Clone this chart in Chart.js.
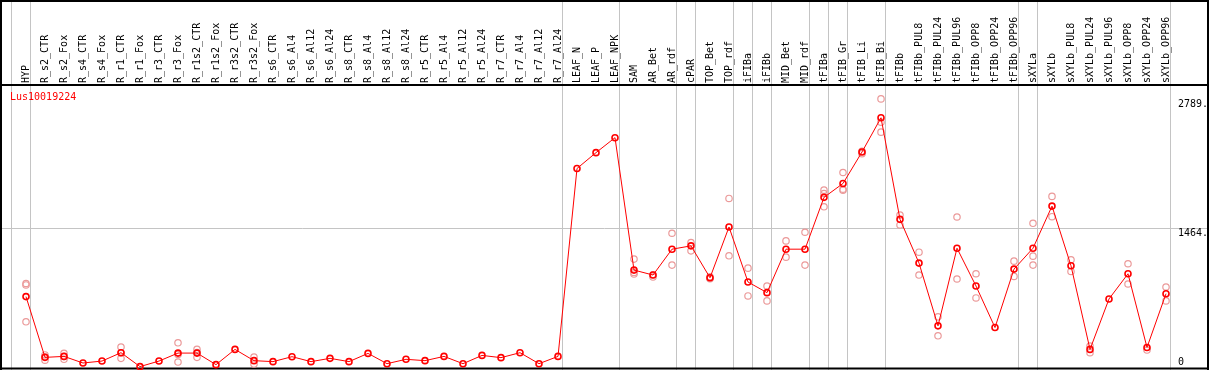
<!DOCTYPE html>
<html>
<head>
<meta charset="utf-8">
<script src="https://cdn.jsdelivr.net/npm/chart.js@4/dist/chart.umd.min.js"></script>
<style>
  body { margin: 0; background: #fff; }
  canvas { display: block; }
</style>
</head>
<body>
<canvas id="exprChart" width="1209" height="370"></canvas>
<script>
var geneName = 'Lus10019224';

var categories = ['HYP', 'R_s2_CTR', 'R_s2_Fox', 'R_s4_CTR', 'R_s4_Fox', 'R_r1_CTR', 'R_r1_Fox', 'R_r3_CTR', 'R_r3_Fox',
  'R_r1s2_CTR', 'R_r1s2_Fox', 'R_r3s2_CTR', 'R_r3s2_Fox', 'R_s6_CTR', 'R_s6_Al4', 'R_s6_Al12', 'R_s6_Al24',
  'R_s8_CTR', 'R_s8_Al4', 'R_s8_Al12', 'R_s8_Al24', 'R_r5_CTR', 'R_r5_Al4', 'R_r5_Al12', 'R_r5_Al24',
  'R_r7_CTR', 'R_r7_Al4', 'R_r7_Al12', 'R_r7_Al24', 'LEAF_N', 'LEAF_P', 'LEAF_NPK', 'SAM', 'AR_Bet', 'AR_rdf',
  'cPAR', 'TOP_Bet', 'TOP_rdf', 'iFIBa', 'iFIBb', 'MID_Bet', 'MID_rdf', 'tFIBa', 'tFIB_Gr', 'tFIB_Li', 'tFIB_Bi',
  'tFIBb', 'tFIBb_PUL8', 'tFIBb_PUL24', 'tFIBb_PUL96', 'tFIBb_OPP8', 'tFIBb_OPP24', 'tFIBb_OPP96', 'sXYLa',
  'sXYLb', 'sXYLb_PUL8', 'sXYLb_PUL24', 'sXYLb_PUL96', 'sXYLb_OPP8', 'sXYLb_OPP24', 'sXYLb_OPP96'];

// mean expression per sample
var meanValues = [755, 130, 140, 72, 92, 178, 35, 92, 174, 174, 55, 212, 96, 86, 137,
  86, 120, 86, 171, 65, 110, 96, 140, 65, 150, 127, 178, 65, 140,
  2073, 2236, 2390,
  1028, 977, 1243, 1277, 949, 1471, 905, 796, 1243, 1243,
  1776, 1919, 2243, 2595, 1550,
  1100, 454, 1253, 864, 437, 1038,
  1253, 1686,
  1072, 212, 731, 990, 232, 785];

// single replicates (null where hidden behind the mean)
var rep1 = [890, 155, 171, null, null, 236, null, null, 280, 212, null, null, 133, null, null,
  null, null, null, null, null, null, null, null, null, null, null, null, null, null,
  null, null, null,
  1141, 956, 1407, 1311, 960, 1765, 1048, 864, 1328, 1417,
  1850, 2032, 2226, 2789, 1594,
  1212, 547, 1574, 990, null, 1120,
  1509, 1786,
  1134, 246, null, 1093, 205, 854];

var rep2 = [875, 101, 110, null, null, 120, null, null, 82, 130, null, null, 61, null, null,
  null, null, null, null, null, null, null, null, null, null, null, null, null, null,
  null, null, null,
  987, 980, 1079, 1226, 940, 1175, 762, 711, 1161, 1079,
  1679, 1850, 2250, 2447, 1492,
  977, 352, 936, 741, null, 963,
  1171, 1577,
  1014, 178, null, 885, null, 711];

var rep3 = [496, 134, 139, null, null, 178, null, null, 160, 180, null, null, null, null, null,
  null, null, null, null, null, null, null, null, null, null, null, null, null, null,
  null, null, null,
  1003, null, null, null, null, null, null, null, null, null,
  1816, 1860, null, 2549, null,
  null, null, null, null, null, null,
  1079, null,
  null, null, null, null, null, null];

var yTickValues = [2789, 1464, 0];
var yGridValues = [1464];
// group separators are drawn right after these category indexes
var groupEnds = [-1, 0, 28, 31, 34, 35, 37, 38, 39, 41, 42, 43, 45, 52, 53, 60];

var monoFont = '10px "DejaVu Sans Mono", "Liberation Mono", monospace';

var framePlugin = {
  id: 'frame',
  beforeDraw: function(chart) {
    var ctx = chart.ctx;
    ctx.save();
    ctx.fillStyle = '#ffffff';
    ctx.fillRect(0, 0, chart.width, chart.height);
    ctx.restore();
  },
  beforeDatasetsDraw: function(chart) {
    var ctx = chart.ctx;
    var xs = chart.scales.x, ys = chart.scales.y;
    var x0 = xs.getPixelForValue(0);
    var step = xs.getPixelForValue(1) - x0;
    ctx.save();
    ctx.strokeStyle = '#c4c4c4';
    ctx.lineWidth = 1;
    groupEnds.forEach(function(i) {
      var px = Math.round(x0 + step * i + 4) + 0.5;
      ctx.beginPath();
      ctx.moveTo(px, 0);
      ctx.lineTo(px, chart.height);
      ctx.stroke();
    });
    yGridValues.forEach(function(v) {
      var py = Math.round(ys.getPixelForValue(v)) + 0.5;
      ctx.beginPath();
      ctx.moveTo(0, py);
      ctx.lineTo(chart.width, py);
      ctx.stroke();
    });

    // black frame
    var top = chart.chartArea.top;
    ctx.strokeStyle = '#000000';
    ctx.lineWidth = 2;
    ctx.beginPath();
    ctx.moveTo(0, 1); ctx.lineTo(chart.width, 1);
    ctx.moveTo(0, top); ctx.lineTo(chart.width, top);
    ctx.moveTo(0, chart.height - 1.5); ctx.lineTo(chart.width, chart.height - 1.5);
    ctx.moveTo(1, 0); ctx.lineTo(1, chart.height);
    ctx.moveTo(chart.width - 1, 0); ctx.lineTo(chart.width - 1, chart.height);
    ctx.stroke();

    // sample names, written upwards
    ctx.font = monoFont;
    ctx.fillStyle = '#000000';
    ctx.textAlign = 'left';
    ctx.textBaseline = 'middle';
    categories.forEach(function(name, i) {
      ctx.save();
      ctx.translate(xs.getPixelForValue(i), top - 2);
      ctx.rotate(-Math.PI / 2);
      ctx.fillText(name, 0, 0);
      ctx.restore();
    });

    // value labels on the right
    yTickValues.forEach(function(v) {
      var py = Math.min(ys.getPixelForValue(v) + 6, chart.height - 8);
      ctx.fillText(v === 0 ? '0' : v + '.', 1178, py);
    });

    ctx.fillStyle = '#ff0000';
    ctx.fillText(geneName, 10, top + 12);
    ctx.restore();
  }
};

var repStyle = function(values) {
  return {
    label: 'replicate',
    data: values,
    showLine: false,
    pointRadius: 3.2,
    pointBorderWidth: 1.2,
    pointBorderColor: '#eb9a9a',
    pointBackgroundColor: 'rgba(0,0,0,0)',
    order: 1,
    clip: false
  };
};

var ctx = document.getElementById('exprChart').getContext('2d');
var exprChart = new Chart(ctx, {
  type: 'line',
  data: {
    labels: categories,
    datasets: [
      {
        label: geneName,
        data: meanValues,
        borderColor: '#ff0000',
        borderWidth: 1,
        tension: 0,
        pointRadius: 3,
        pointBorderWidth: 1.6,
        pointBorderColor: '#ff0000',
        pointBackgroundColor: 'rgba(0,0,0,0)',
        order: 0,
        clip: false
      },
      repStyle(rep1),
      repStyle(rep2),
      repStyle(rep3)
    ]
  },
  options: {
    responsive: false,
    animation: false,
    events: [],
    layout: {
      autoPadding: false,
      padding: { left: 26, right: 43, top: 85, bottom: 0 }
    },
    plugins: {
      legend: { display: false },
      tooltip: { enabled: false }
    },
    scales: {
      x: { display: false },
      y: { display: false, min: 0, max: 2932 }
    }
  },
  plugins: [framePlugin]
});
</script>
</body>
</html>
